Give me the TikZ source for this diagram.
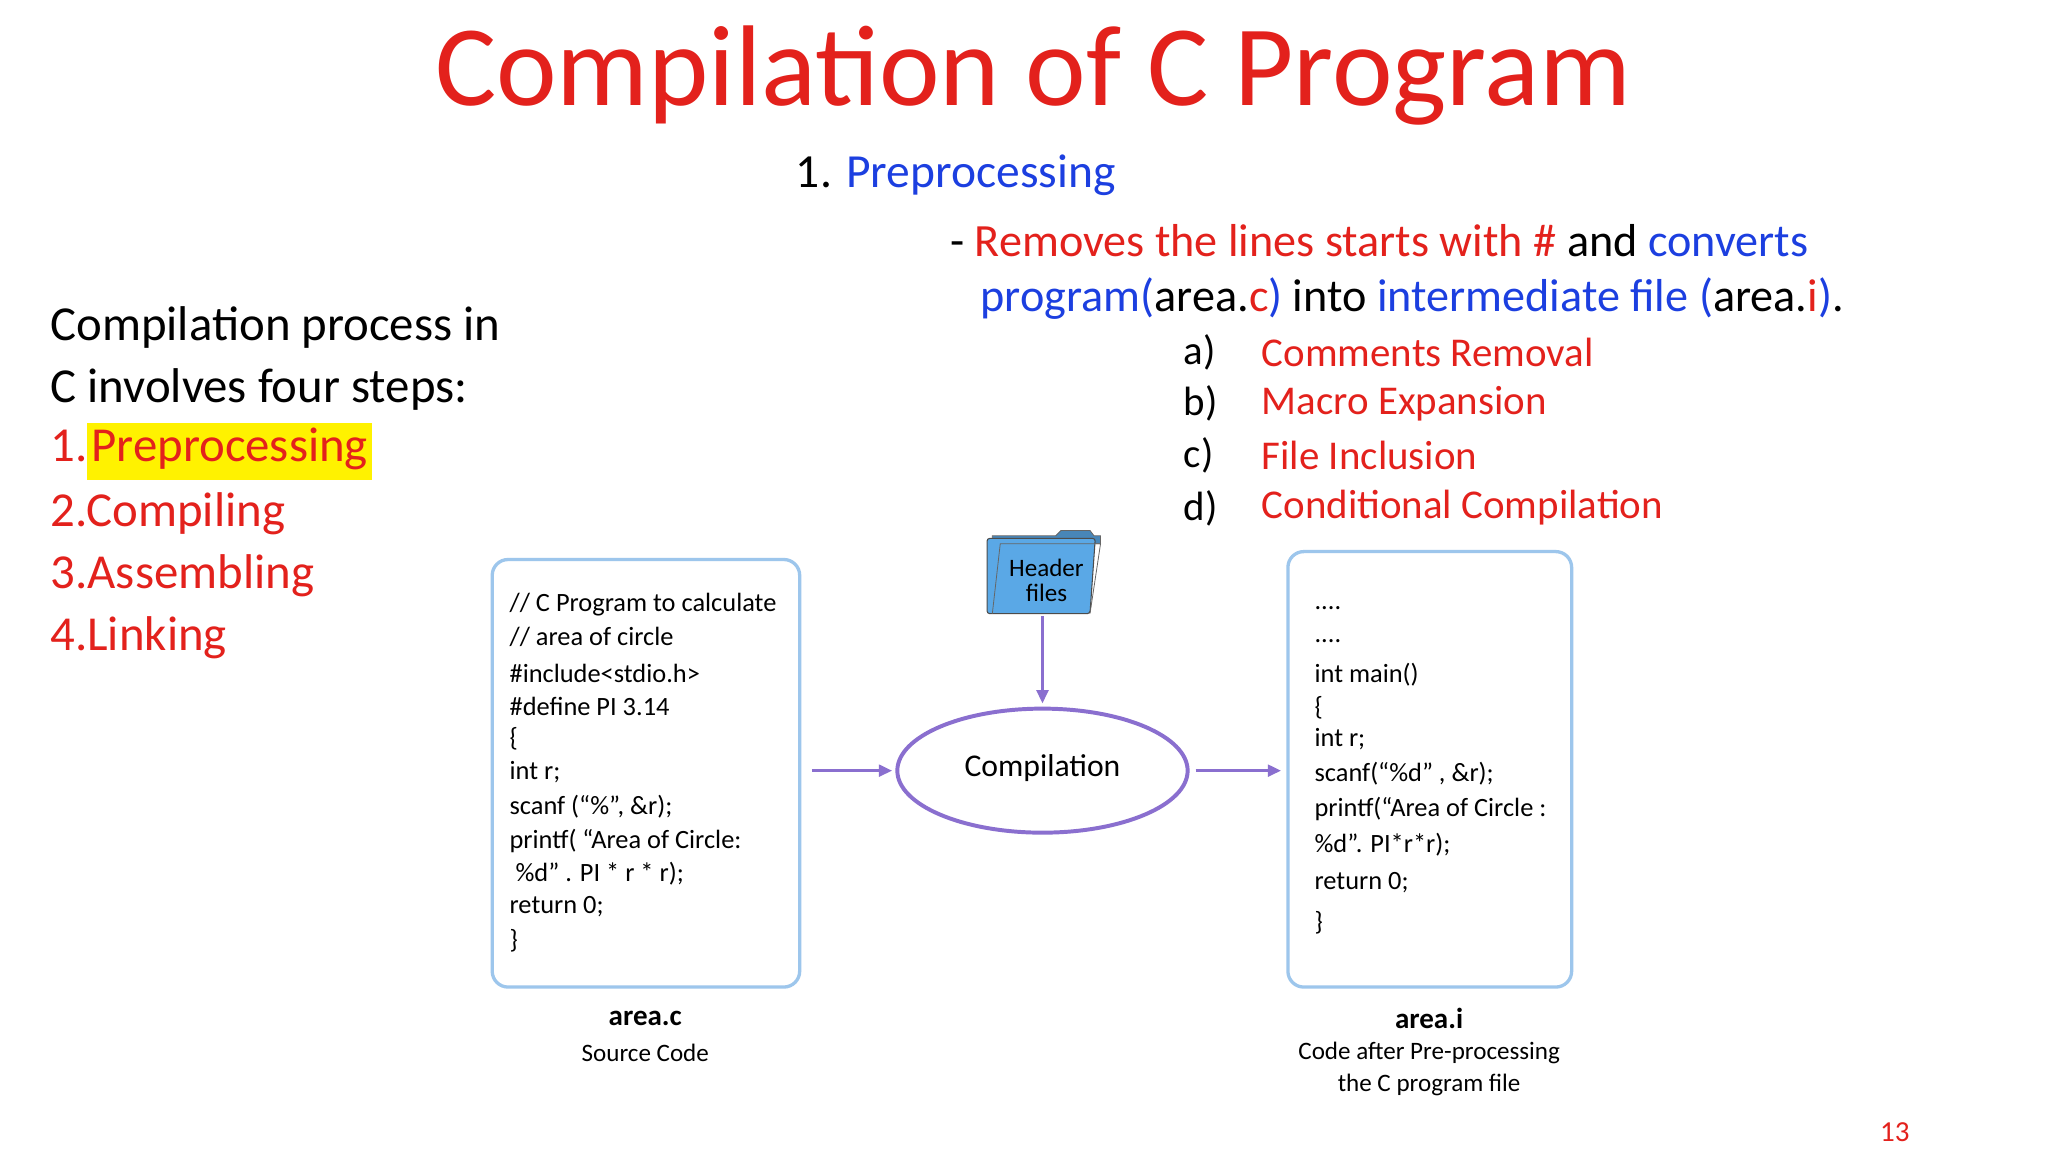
\documentclass[tikz,border=0pt]{standalone}
\usepackage{fontspec}
\setmainfont{Carlito}
\usetikzlibrary{arrows.meta,calc}
\definecolor{cred}{HTML}{E3211C}
\definecolor{cblue}{HTML}{1C3FE0}
\definecolor{boxb}{HTML}{9DC6EC}
\definecolor{purp}{HTML}{8A6FCF}
\definecolor{fold}{HTML}{5AA8E6}
\definecolor{hl}{HTML}{FFF200}
\tikzset{
 fs/.style={font=\fontsize{#1}{#1}\selectfont},
 lt/.style={anchor=west,inner sep=0pt},
 codebox/.style={draw=boxb,line width=2.5pt,rounded corners=12pt},
 arr/.style={draw=purp,line width=2pt,-{Triangle[length=10pt,width=9pt]}},
 code/.style={lt,fs=20}
}
\begin{document}
\begin{tikzpicture}[x=1pt,y=-1pt]
\useasboundingbox[fill=white] (0,0) rectangle (1552,873);
\node[fs=87,text=cred] (title) at (783,57) {Compilation of C Program};
\node[lt,fs=36] (h1) at (603,133) {1. \textcolor{cblue}{Preprocessing}};
\node[lt,fs=35] (l1) at (720,182) {- \textcolor{cred}{Removes the lines starts with \#} and \textcolor{cblue}{converts}};
\node[lt,fs=35] (l2) at (743,226) {\textcolor{cblue}{program(}area.\textcolor{cred}{c}\textcolor{cblue}{)} into \textcolor{cblue}{intermediate file (}area.\textcolor{cred}{i}\textcolor{cblue}{)}.};
\foreach \l/\t/\y in {a/Comments Removal/267,b/Macro Expansion/306,c/File Inclusion/345,d/Conditional Compilation/385}{
 \node[lt,fs=31] (m\l) at (897,\y) {\l)};
 \node[lt,fs=31,text=cred] (t\l) at (956,\y) {\t};
}
\node[lt,fs=37] (s0) at (38,248) {Compilation process in};
\node[lt,fs=37] (s00) at (38,295) {C involves four steps:};
\node[lt,fs=37,text=cred] (s1) at (38,342) {1.\colorbox{hl}{\strut Preprocessing}};
\node[lt,fs=37,text=cred] (s2) at (38,389) {2.Compiling};
\node[lt,fs=37,text=cred] (s3) at (38,436) {3.Assembling};
\node[lt,fs=37,text=cred] (s4) at (38,483) {4.Linking};
% left box
\node[codebox,minimum width=233,minimum height=324] (lb) at (489.5,586) {};
\foreach \t/\y in {{// C Program to calculate}/458,{// area of circle}/483,{\#include<stdio.h>}/510,{\#define PI 3.14}/535,{\{}/560,{int r;}/585,{scanf (“\%”, \&r);}/611,{printf( “Area of Circle:}/637,{\ \%d” . PI * r * r);}/662,{return 0;}/687,{\}}/713}{
 \node[code] at (386,\y) {\t};
}
\node[font=\bfseries\fontsize{22}{22}\selectfont] (ac) at (489,772) {area.c};
\node[fs=19] (sc) at (489,798) {Source Code};
% right box
\node[codebox,minimum width=215,minimum height=330] (rb) at (1083.5,583) {};
\foreach \t/\y in {{....}/461,{....}/486,{int main()}/511,{\{}/536,{int r;}/560,{scanf(“\%d” , \&r);}/586,{printf(“Area of Circle :}/613,{\%d”. PI*r*r);}/640,{return 0;}/669,{\}}/699}{
 \node[code] at (996,\y) {\t};
}
\node[font=\bfseries\fontsize{22}{22}\selectfont] (ai) at (1083,772) {area.i};
\node[fs=19] (cp) at (1083,798) {Code after Pre-processing};
\node[fs=19] (cp2) at (1083,822) {the C program file};
% ellipse
\draw[purp,line width=3pt] (790,584) ellipse (110 and 47);
\node[fs=24] (comp) at (790,582) {Compilation};
\coordinate (el) at (676,584);
\coordinate (er) at (904,584);
\coordinate (et) at (790,533);
% folder
\draw[fill=fold!80!black,draw=black!60,line width=0.6pt] (752,412) -- (752,406) -- (800,406) -- (804,402) -- (826,402) -- (829,406) -- (834,406) -- (834,412) -- cycle;
\draw[fill=fold,draw=black!70,line width=0.8pt,rounded corners=2pt] (748,408) -- (830,408) -- (826,465) -- (748,465) -- cycle;
\draw[draw=black!60,line width=0.6pt] (752,465) -- (758,412) -- (834,412) -- (826,465);
\node[fs=19,align=center] (hf) at (793,440) {Header\\[0pt]files};
\coordinate (fb) at (790,467);
\draw[arr] (fb) -- (et);
\draw[arr] ($(lb.east)+(8,-2)$) -- (el);
\draw[arr] ($(er)+(2,0)$) -- ($(rb.west)+(-4,1)$);
\node[fs=22,text=cred] (pg) at (1436,858) {13};
\end{tikzpicture}
\end{document}
